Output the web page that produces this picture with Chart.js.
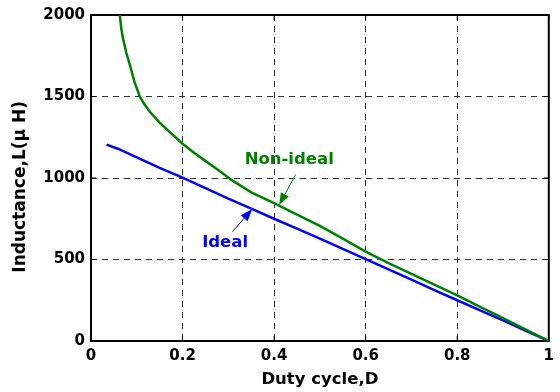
<!DOCTYPE html>
<html>
<head>
<meta charset="utf-8">
<script src="https://cdn.jsdelivr.net/npm/chart.js@4"></script>
<style>
  body { margin: 0; background: #fff; }
  #wrap { width: 560px; height: 392px; }
</style>
</head>
<body>
<div id="wrap"><canvas id="inductance"></canvas></div>
<script>
// Inductancia requerida vs ciclo de trabajo
const dutyIdeal = [0.034, 0.06, 0.1, 0.15, 0.2, 0.25, 0.3, 0.35, 0.4, 0.45, 0.5, 0.55, 0.6, 0.65, 0.7, 0.75, 0.8, 0.85, 0.9, 0.95, 1.0];
const lIdeal = [1205, 1178, 1126, 1062, 1002, 938, 874, 812, 750, 690, 628, 565, 502, 440, 376, 312, 250, 188, 126, 62, 0];

const dutyNonIdeal = [0.063, 0.066, 0.07, 0.077, 0.085, 0.095, 0.1065, 0.115, 0.128, 0.15, 0.165, 0.19, 0.2, 0.225, 0.25, 0.28, 0.31, 0.35, 0.4, 0.45, 0.5, 0.55, 0.6, 0.65, 0.7, 0.75, 0.8, 0.85, 0.9, 0.95, 1.0];
const lNonIdeal = [2000, 1920, 1855, 1770, 1693, 1590, 1500, 1460, 1408, 1340, 1300, 1236, 1210, 1155, 1105, 1045, 982, 912, 846, 776, 706, 628, 548, 478, 412, 346, 280, 210, 140, 70, 0];

const toPoints = (xs, ys) => xs.map((x, i) => ({ x: x, y: ys[i] }));

Chart.defaults.font.family = "'DejaVu Sans', sans-serif";
Chart.defaults.font.weight = 'bold';
Chart.defaults.color = '#000';

// etiquetas con flecha
const labels = [
  { text: 'Non-ideal', color: '#008000', at: [0.433, 1110], from: [0.447, 1022], to: [0.411, 835] },
  { text: 'Ideal', color: '#0000ff', at: [0.293, 604], from: [0.309, 671], to: [0.352, 809] }
];

function arrow(ctx, x0, y0, x1, y1, color) {
  const ang = Math.atan2(y1 - y0, x1 - x0);
  const len = 12, half = 4.5;
  const bx = x1 - len * Math.cos(ang), by = y1 - len * Math.sin(ang);
  ctx.strokeStyle = color;
  ctx.fillStyle = color;
  ctx.lineWidth = 1;
  ctx.beginPath();
  ctx.moveTo(x0, y0);
  ctx.lineTo(bx, by);
  ctx.stroke();
  ctx.beginPath();
  ctx.moveTo(x1, y1);
  ctx.lineTo(bx + half * Math.sin(ang), by - half * Math.cos(ang));
  ctx.lineTo(bx - half * Math.sin(ang), by + half * Math.cos(ang));
  ctx.closePath();
  ctx.fill();
}

const framePlugin = {
  id: 'frame',
  beforeDatasetsDraw(chart) {
    const { ctx, chartArea: a, scales: { x, y } } = chart;
    ctx.save();
    ctx.strokeStyle = '#000';
    ctx.lineWidth = 1;
    ctx.beginPath();
    x.ticks.forEach(t => {
      const px = x.getPixelForValue(t.value);
      ctx.moveTo(px, a.bottom); ctx.lineTo(px, a.bottom - 5);
      ctx.moveTo(px, a.top); ctx.lineTo(px, a.top + 5);
    });
    y.ticks.forEach(t => {
      const py = y.getPixelForValue(t.value);
      ctx.moveTo(a.left, py); ctx.lineTo(a.left + 5, py);
      ctx.moveTo(a.right, py); ctx.lineTo(a.right - 5, py);
    });
    ctx.stroke();
    ctx.lineWidth = 2;
    ctx.strokeRect(a.left, a.top, a.right - a.left, a.bottom - a.top);
    ctx.restore();
  },
  afterDatasetsDraw(chart) {
    const { ctx, scales: { x, y } } = chart;
    ctx.save();
    labels.forEach(l => {
      arrow(ctx, x.getPixelForValue(l.from[0]), y.getPixelForValue(l.from[1]),
        x.getPixelForValue(l.to[0]), y.getPixelForValue(l.to[1]), l.color);
      ctx.fillStyle = l.color;
      ctx.font = "bold 16.5px 'DejaVu Sans'";
      ctx.textAlign = 'center';
      ctx.textBaseline = 'middle';
      ctx.fillText(l.text, x.getPixelForValue(l.at[0]), y.getPixelForValue(l.at[1]));
    });
    ctx.restore();
  }
};

const ctx = document.getElementById('inductance').getContext('2d');
const chart = new Chart(ctx, {
  type: 'line',
  data: {
    datasets: [
      {
        label: 'Non-ideal',
        data: toPoints(dutyNonIdeal, lNonIdeal),
        borderColor: '#008000',
        borderWidth: 2.5,
        pointRadius: 0,
        tension: 0
      },
      {
        label: 'Ideal',
        data: toPoints(dutyIdeal, lIdeal),
        borderColor: '#0000ff',
        borderWidth: 2.5,
        pointRadius: 0,
        tension: 0
      }
    ]
  },
  options: {
    responsive: true,
    maintainAspectRatio: false,
    animation: false,
    layout: { padding: { top: 13, right: 9, left: 0, bottom: 0 } },
    plugins: {
      legend: { display: false },
      tooltip: { enabled: false }
    },
    scales: {
      x: {
        type: 'linear',
        min: 0,
        max: 1,
        afterFit: scale => { scale.height = 51; },
        ticks: {
          stepSize: 0.2,
          padding: 6,
          font: { size: 15, weight: 'bold' },
          callback: v => String(Math.round(v * 10) / 10)
        },
        grid: { color: '#333', lineWidth: 1, drawTicks: false },
        border: { display: false, dash: [6, 5] },
        title: { display: true, text: 'Duty cycle,D', font: { size: 16.5, weight: 'bold' }, padding: { top: 0, bottom: 2 } }
      },
      y: {
        min: 0,
        max: 2000,
        afterFit: scale => { scale.width = 91; },
        ticks: {
          stepSize: 500,
          padding: 6,
          font: { size: 15, weight: 'bold' },
          callback: v => String(v)
        },
        grid: { color: '#333', lineWidth: 1, drawTicks: false },
        border: { display: false, dash: [6, 5] },
        title: { display: true, text: 'Inductance,L(μ H)   ', font: { size: 17, weight: 'bold', lineHeight: 1 }, padding: { top: 12, bottom: 0 } }
      }
    }
  },
  plugins: [framePlugin]
});
</script>
</body>
</html>
